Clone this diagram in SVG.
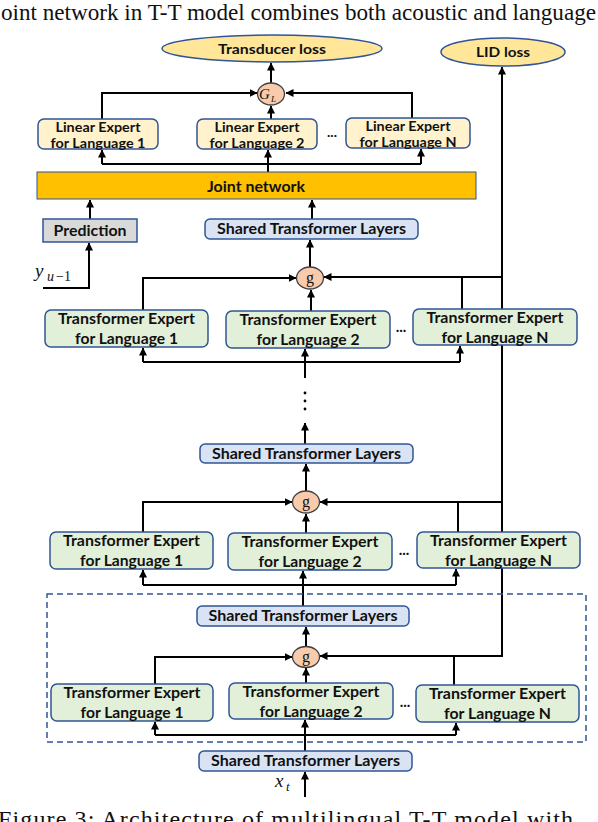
<svg xmlns="http://www.w3.org/2000/svg" width="598" height="822" viewBox="0 0 598 822">
<defs>
<marker id="arr" markerUnits="userSpaceOnUse" markerWidth="8" markerHeight="8" refX="7.5" refY="4" orient="auto">
<path d="M0,0 L8,4 L0,8 z" fill="#000"/>
</marker>
<style>
.cap{font-family:"Liberation Serif","Times New Roman",serif;font-size:24px;fill:#111}
.lbl{font-family:Lato,"Liberation Sans",sans-serif;font-weight:bold;fill:#111;text-anchor:middle}
.math{font-family:"Liberation Serif",serif;font-style:italic;fill:#111}
.ln{fill:none;stroke:#000;stroke-width:2}
.ar{fill:none;stroke:#000;stroke-width:2;marker-end:url(#arr)}
.te{fill:#E2F0D9;stroke:#2F5597;stroke-width:1.5}
.sh{fill:#DAE3F3;stroke:#2F5597;stroke-width:1.5}
.le{fill:#FFF2CC;stroke:#2F5597;stroke-width:1.5}
.loss{fill:#FFE699;stroke:#2F5597;stroke-width:1.5}
.gate{fill:#F8CBAD;stroke:#404040;stroke-width:1.3}
</style>
</defs>
<rect width="598" height="822" fill="#fff"/>
<text class="cap" x="1" y="20" textLength="595" lengthAdjust="spacingAndGlyphs">oint network in T-T model combines both acoustic and language</text>
<text class="cap" x="-2" y="827" textLength="575" lengthAdjust="spacing">Figure 3: Architecture of multilingual T-T model with</text>

<g id="connectors">
<path class="ar" d="M271,83 V63"/>
<path class="ar" d="M102,119 V93 H257"/>
<path class="ar" d="M412,118 V93 H286"/>
<path class="ar" d="M271,119 V106"/>
<path class="ln" d="M102,164 H421"/>
<path class="ar" d="M102,164 V150"/>
<path class="ar" d="M268,172 V150"/>
<path class="ar" d="M421,164 V149"/>
<path class="ar" d="M454,656 H502 V67"/>
<path class="ar" d="M312,219 V200"/>
<path class="ar" d="M90,219 V200"/>
<path class="ar" d="M43,288 H89 V243"/>
<path class="ar" d="M310,267 V240"/>
<path class="ar" d="M143,310 V278 H296"/>
<path class="ar" d="M311,311 V290"/>
<path class="ar" d="M502,277 H324"/>
<path class="ln" d="M462,309 V277"/>
<path class="ln" d="M143,362 H460"/>
<path class="ar" d="M143,362 V348"/>
<path class="ar" d="M460,362 V346"/>
<path class="ar" d="M305,378 V349"/>
<circle cx="305" cy="393" r="1.4" fill="#000"/>
<circle cx="305" cy="401" r="1.4" fill="#000"/>
<circle cx="305" cy="409" r="1.4" fill="#000"/>
<path class="ar" d="M305,444 V423"/>
<path class="ar" d="M306,491 V464"/>
<path class="ar" d="M143,532 V502 H292"/>
<path class="ar" d="M306,533 V514"/>
<path class="ar" d="M502,502 H320"/>
<path class="ln" d="M458,532 V502"/>
<path class="ln" d="M143,585 H456"/>
<path class="ar" d="M143,585 V570"/>
<path class="ar" d="M456,585 V569"/>
<path class="ar" d="M303,606 V571"/>
<path class="ar" d="M306,646 V627"/>
<path class="ar" d="M155,684 V657 H292"/>
<path class="ar" d="M306,683 V668"/>
<path class="ar" d="M454,685 V656 H320"/>
<path class="ln" d="M155,735 H456"/>
<path class="ar" d="M155,735 V722"/>
<path class="ar" d="M456,735 V723"/>
<path class="ar" d="M305,751 V720"/>
<path class="ar" d="M305,797 V772"/>
</g>

<rect id="dashed-block" x="47" y="594" width="539" height="148" fill="none" stroke="#2F5597" stroke-width="1.5" stroke-dasharray="6 4"/>

<g id="transducer-loss">
<ellipse class="loss" cx="272" cy="48.5" rx="110" ry="13.5"/>
<text class="lbl" x="272" y="54" font-size="14" textLength="108" lengthAdjust="spacingAndGlyphs">Transducer loss</text>
</g>
<g id="lid-loss">
<ellipse class="loss" cx="503" cy="52" rx="62" ry="14"/>
<text class="lbl" x="503" y="57" font-size="14" textLength="54" lengthAdjust="spacingAndGlyphs">LID loss</text>
</g>
<g id="gate-GL">
<ellipse class="gate" cx="271" cy="94" rx="13.5" ry="11"/>
<text class="math" x="259" y="99" font-size="15">G</text>
<text class="math" x="271" y="102" font-size="9">L</text>
</g>

<g id="linear-expert-1">
<rect class="le" x="38" y="119" width="120" height="30" rx="6"/>
<text class="lbl" x="98" y="132" font-size="14" textLength="85" lengthAdjust="spacingAndGlyphs">Linear Expert</text>
<text class="lbl" x="98" y="148" font-size="14" textLength="95" lengthAdjust="spacingAndGlyphs">for Language 1</text>
</g>
<g id="linear-expert-2">
<rect class="le" x="197" y="119" width="120" height="30" rx="6"/>
<text class="lbl" x="257" y="132" font-size="14" textLength="85" lengthAdjust="spacingAndGlyphs">Linear Expert</text>
<text class="lbl" x="257" y="148" font-size="14" textLength="95" lengthAdjust="spacingAndGlyphs">for Language 2</text>
</g>
<text class="lbl" x="332" y="137" font-size="14">...</text>
<g id="linear-expert-N">
<rect class="le" x="346" y="118" width="124" height="30" rx="6"/>
<text class="lbl" x="408" y="131" font-size="14" textLength="85" lengthAdjust="spacingAndGlyphs">Linear Expert</text>
<text class="lbl" x="408" y="147" font-size="14" textLength="97" lengthAdjust="spacingAndGlyphs">for Language N</text>
</g>

<g id="joint-network">
<rect x="37" y="172" width="439" height="27" fill="#FFC000" stroke="#2F5597" stroke-width="1"/>
<text class="lbl" x="256" y="192" font-size="15" textLength="98" lengthAdjust="spacingAndGlyphs">Joint network</text>
</g>
<g id="prediction">
<rect x="43" y="219" width="94" height="23" fill="#D9D9D9" stroke="#2F5597" stroke-width="1.5"/>
<text class="lbl" x="90" y="236" font-size="15" textLength="73" lengthAdjust="spacingAndGlyphs">Prediction</text>
</g>
<g id="y-input">
<text class="math" x="35" y="277" font-size="19">y</text>
<text class="math" x="47" y="281" font-size="14">u</text>
<text x="56" y="281" font-size="14" font-family="Liberation Serif,serif" fill="#111">−1</text>
</g>

<g id="shared-3">
<rect class="sh" x="205" y="219" width="213" height="20" rx="5"/>
<text class="lbl" x="311.5" y="234" font-size="14.5" textLength="189" lengthAdjust="spacingAndGlyphs">Shared Transformer Layers</text>
</g>
<g id="gate-3">
<ellipse class="gate" cx="310" cy="278" rx="13.5" ry="11"/>
<text x="310" y="283" font-size="16" font-family="Liberation Serif,serif" text-anchor="middle" fill="#111">g</text>
</g>
<g id="te1-3">
<rect class="te" x="45" y="310" width="163" height="37" rx="6"/>
<text class="lbl" x="126.5" y="324" font-size="15" textLength="137" lengthAdjust="spacingAndGlyphs">Transformer Expert</text>
<text class="lbl" x="126.5" y="344" font-size="15" textLength="103" lengthAdjust="spacingAndGlyphs">for Language 1</text>
</g>
<g id="te2-3">
<rect class="te" x="226" y="311" width="164" height="37" rx="6"/>
<text class="lbl" x="308" y="325" font-size="15" textLength="137" lengthAdjust="spacingAndGlyphs">Transformer Expert</text>
<text class="lbl" x="308" y="345" font-size="15" textLength="103" lengthAdjust="spacingAndGlyphs">for Language 2</text>
</g>
<text class="lbl" x="401" y="332" font-size="15">...</text>
<g id="teN-3">
<rect class="te" x="413" y="309" width="164" height="36" rx="6"/>
<text class="lbl" x="495" y="323" font-size="15" textLength="137" lengthAdjust="spacingAndGlyphs">Transformer Expert</text>
<text class="lbl" x="495" y="343" font-size="15" textLength="107" lengthAdjust="spacingAndGlyphs">for Language N</text>
</g>

<g id="shared-2">
<rect class="sh" x="200" y="444" width="213" height="19" rx="5"/>
<text class="lbl" x="306.5" y="459" font-size="14.5" textLength="189" lengthAdjust="spacingAndGlyphs">Shared Transformer Layers</text>
</g>
<g id="gate-2">
<ellipse class="gate" cx="306" cy="502" rx="13.5" ry="11"/>
<text x="306" y="507" font-size="16" font-family="Liberation Serif,serif" text-anchor="middle" fill="#111">g</text>
</g>
<g id="te1-2">
<rect class="te" x="50" y="532" width="163" height="37" rx="6"/>
<text class="lbl" x="131.5" y="546" font-size="15" textLength="137" lengthAdjust="spacingAndGlyphs">Transformer Expert</text>
<text class="lbl" x="131.5" y="566" font-size="15" textLength="103" lengthAdjust="spacingAndGlyphs">for Language 1</text>
</g>
<g id="te2-2">
<rect class="te" x="228" y="533" width="164" height="37" rx="6"/>
<text class="lbl" x="310" y="547" font-size="15" textLength="137" lengthAdjust="spacingAndGlyphs">Transformer Expert</text>
<text class="lbl" x="310" y="567" font-size="15" textLength="103" lengthAdjust="spacingAndGlyphs">for Language 2</text>
</g>
<text class="lbl" x="404" y="555" font-size="15">...</text>
<g id="teN-2">
<rect class="te" x="417" y="532" width="163" height="36" rx="6"/>
<text class="lbl" x="498.5" y="546" font-size="15" textLength="137" lengthAdjust="spacingAndGlyphs">Transformer Expert</text>
<text class="lbl" x="498.5" y="566" font-size="15" textLength="107" lengthAdjust="spacingAndGlyphs">for Language N</text>
</g>

<g id="shared-1">
<rect class="sh" x="197" y="606" width="212" height="20" rx="5"/>
<text class="lbl" x="303" y="621" font-size="14.5" textLength="189" lengthAdjust="spacingAndGlyphs">Shared Transformer Layers</text>
</g>
<g id="gate-1">
<ellipse class="gate" cx="306" cy="657" rx="13.5" ry="10.5"/>
<text x="306" y="662" font-size="16" font-family="Liberation Serif,serif" text-anchor="middle" fill="#111">g</text>
</g>
<g id="te1-1">
<rect class="te" x="51" y="684" width="162" height="37" rx="6"/>
<text class="lbl" x="132" y="698" font-size="15" textLength="137" lengthAdjust="spacingAndGlyphs">Transformer Expert</text>
<text class="lbl" x="132" y="718" font-size="15" textLength="103" lengthAdjust="spacingAndGlyphs">for Language 1</text>
</g>
<g id="te2-1">
<rect class="te" x="229" y="683" width="164" height="36" rx="6"/>
<text class="lbl" x="311" y="697" font-size="15" textLength="137" lengthAdjust="spacingAndGlyphs">Transformer Expert</text>
<text class="lbl" x="311" y="717" font-size="15" textLength="103" lengthAdjust="spacingAndGlyphs">for Language 2</text>
</g>
<text class="lbl" x="405" y="707" font-size="15">...</text>
<g id="teN-1">
<rect class="te" x="416" y="685" width="163" height="37" rx="6"/>
<text class="lbl" x="497.5" y="699" font-size="15" textLength="137" lengthAdjust="spacingAndGlyphs">Transformer Expert</text>
<text class="lbl" x="497.5" y="719" font-size="15" textLength="107" lengthAdjust="spacingAndGlyphs">for Language N</text>
</g>

<g id="shared-0">
<rect class="sh" x="199" y="751" width="213" height="20" rx="5"/>
<text class="lbl" x="305.5" y="766" font-size="14.5" textLength="189" lengthAdjust="spacingAndGlyphs">Shared Transformer Layers</text>
</g>
<g id="x-input">
<text class="math" x="275" y="787" font-size="19">x</text>
<text class="math" x="286" y="791" font-size="13">t</text>
</g>
</svg>
